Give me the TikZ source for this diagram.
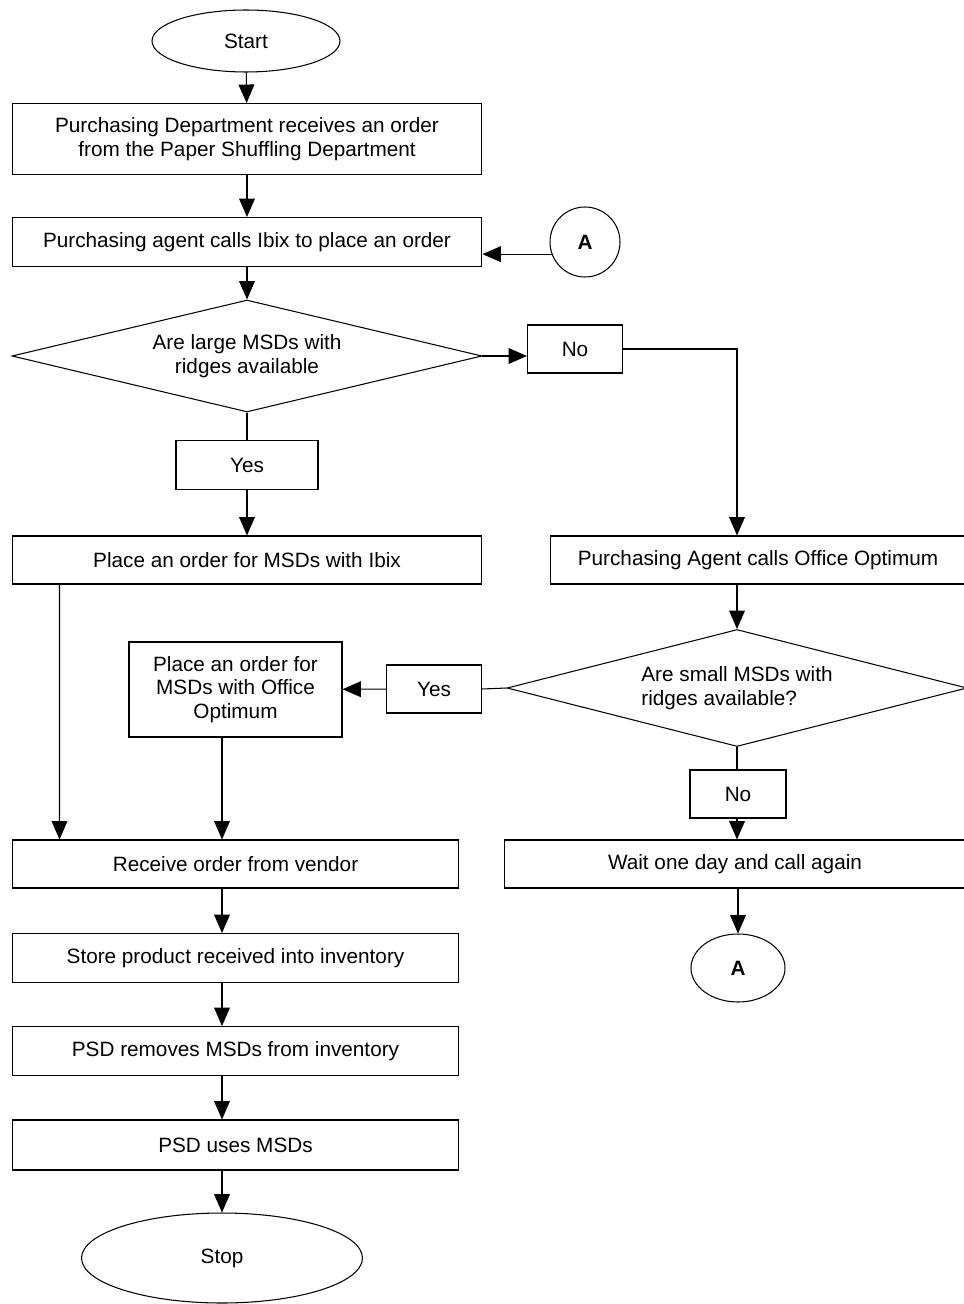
\documentclass[tikz,border=0pt]{standalone}
\usepackage{fontspec}
\setmainfont{Liberation Sans}
\usetikzlibrary{shapes.geometric,arrows.meta}

\tikzset{
  process/.style={draw, rectangle, align=center, inner sep=1pt},
  decision/.style={draw, diamond, aspect=4, inner sep=0pt},
  terminal/.style={draw, ellipse, inner sep=0pt},
  answer/.style={draw, rectangle, minimum width=1.9cm, minimum height=0.96cm, inner sep=0pt},
  connector/.style={draw, ellipse, inner sep=0pt, font=\fontsize{11.8}{14}\selectfont\bfseries},
  arrow/.style={-{Triangle[width=9pt,length=10.5pt]}}
}

\begin{document}
\begin{tikzpicture}[x=0.02cm, y=-0.02cm, line width=0.6pt,
    every node/.style={font=\fontsize{11.8}{13.5}\selectfont}]

      \useasboundingbox (0,0) rectangle (963,1304);

      % Start and first steps
      \node[terminal, minimum width=3.76cm, minimum height=1.24cm] (start) at (246,41) {Start};
      \node[process, minimum width=9.4cm, minimum height=1.42cm] (order) at (247,139)
        {Purchasing Department receives an order\\from the Paper Shuffling Department};
      \node[process, minimum width=9.4cm, minimum height=0.98cm] (callIbix) at (247,242)
        {Purchasing agent calls Ibix to place an order};
      \node[connector, minimum width=1.4cm, minimum height=1.4cm] (A-1) at (585,242) {A};

      % Large MSDs
      \node[decision, minimum width=9.4cm, minimum height=2.24cm, align=center] (large) at (247,356)
        {Are large MSDs with\\ridges available};
      \node[answer] (noLarge) at (575,349) {No};
      \node[answer, minimum width=2.84cm, minimum height=0.98cm] (yesLarge) at (247,465) {Yes};
      \node[process, minimum width=9.4cm, minimum height=0.96cm] (orderIbix) at (247,560)
        {Place an order for MSDs with Ibix};
      \node[process, minimum width=8.32cm, minimum height=0.96cm] (callOffice) at (758,560)
        {Purchasing Agent calls Office Optimum};

      % Small MSDs
      \node[decision, minimum width=9.2cm, minimum height=2.34cm, align=left] (small) at (737,688)
        {Are small MSDs with\\ridges available?};
      \node[answer] (yesSmall) at (434,689) {Yes};
      \node[process, minimum width=4.26cm, minimum height=1.9cm] (orderOffice) at (235.5,689.5)
        {Place an order for\\MSDs with Office\\Optimum};
      \node[answer, minimum width=1.92cm] (noSmall) at (738,794) {No};
      \node[process, minimum width=9.24cm, minimum height=0.96cm] (wait) at (735,864)
        {Wait one day and call again};
      \node[connector, minimum width=1.88cm, minimum height=1.36cm] (A-2) at (738,968) {A};

      % Receiving and use
      \node[process, minimum width=8.94cm, minimum height=0.96cm] (receive) at (235.5,864)
        {Receive order from vendor};
      \node[process, minimum width=8.94cm, minimum height=0.98cm] (store) at (235.5,958)
        {Store product received into inventory};
      \node[process, minimum width=8.94cm, minimum height=0.98cm] (removes) at (235.5,1051)
        {PSD removes MSDs from inventory};
      \node[process, minimum width=8.94cm, minimum height=1.0cm] (uses) at (235.5,1145)
        {PSD uses MSDs};
      \node[terminal, minimum width=5.62cm, minimum height=1.8cm] (stop) at (222,1258) {Stop};

      % Connecting steps
      \draw[arrow] (start) -- (order);
      \draw[arrow] (order) -- (callIbix);
      \draw[arrow] (callIbix) -- (large);
      \draw[arrow] (A-1.200) -- (A-1.200 -| callIbix.east);
      \draw[arrow] (large.east) -- (noLarge.west |- large.east);
      \draw[arrow] (noLarge.east) -| (small.north |- callOffice.north);
      \draw (large.south) -- (yesLarge.north);
      \draw[arrow] (yesLarge) -- (orderIbix);
      \draw[arrow] (small.north |- callOffice.south) -- (small.north);
      \draw (small.west) -- (yesSmall.east);
      \draw[arrow] (yesSmall) -- (orderOffice);
      \draw (small.south) -- (noSmall.north -| small.south);
      \draw[arrow] (noSmall.south -| small.south) -- (small.south |- wait.north);
      \draw[arrow] (wait.south -| A-2.north) -- (A-2.north);
      \draw[arrow] ([xshift=0.96cm]orderIbix.south west) -- ([xshift=0.96cm]receive.north west);
      \draw[arrow] (orderOffice.south -| stop.north) -- (receive.north -| stop.north);
      \draw[arrow] (receive.south -| stop.north) -- (store.north -| stop.north);
      \draw[arrow] (store.south -| stop.north) -- (removes.north -| stop.north);
      \draw[arrow] (removes.south -| stop.north) -- (uses.north -| stop.north);
      \draw[arrow] (uses.south -| stop.north) -- (stop.north);

\end{tikzpicture}
\end{document}
